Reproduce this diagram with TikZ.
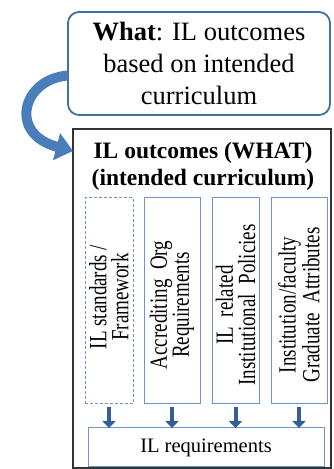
\documentclass[tikz,border=0pt]{standalone}
\usepackage{fontspec}
\setmainfont{Liberation Serif}
\usetikzlibrary{calc,arrows.meta}

\definecolor{framblue}{HTML}{41719C}
\definecolor{arrblue}{HTML}{4A7EBB}
\definecolor{boxblue}{HTML}{6F93CC}
\definecolor{downblue}{HTML}{355E97}

\begin{document}
\begin{tikzpicture}[
        x=1pt, y=1pt,
        every node/.style={inner sep=0, outer sep=0},
        whatbox/.style={draw=framblue, line width=1.8pt, rounded corners=11pt,
            minimum width=262pt, minimum height=103pt, align=center,
            font=\fontsize{26.5}{32}\selectfont},
        srcbox/.style={draw=boxblue, line width=1pt, minimum height=206pt},
        srctext/.style={rotate=90, yscale=1.3, align=center,
            font=\fontsize{19}{17}\selectfont},
        downarrow/.style={draw=downblue, line width=4pt,
            -{Triangle[length=7pt, width=13pt]}},
    ]

    \useasboundingbox (0,0) rectangle (333,469);

    % Top box and outer frame.
    \node[whatbox] (what) at (199,405.5)
        {\textbf{What}: IL outcomes\\based on intended\\curriculum};
    \node[draw=black!80, line width=1.2pt, minimum width=258pt,
        minimum height=339pt] (outcomes) at (202,170.5) {};
    \node[align=center, font=\fontsize{23.5}{27}\selectfont\bfseries]
        (title) at (203,303) {IL outcomes (WHAT)\\(intended curriculum)};

    % Sources of the outcomes.
    \node[srcbox, dash pattern=on 3pt off 2pt, minimum width=48pt] (std) at (109,168) {};
    \node[srcbox, minimum width=56pt] (acc) at (172,168) {};
    \node[srcbox, minimum width=47pt] (pol) at (235.5,168) {};
    \node[srcbox, minimum width=56pt] (att) at (299,168) {};

    \node[srctext] at ($(std)+(0,4)$) {IL standards /\\Framework};
    \node[srctext] at ($(acc)+(0,-4)$) {Accrediting\ \ Org\\Requirements};
    \node[srctext] at ($(pol)+(0,-4)$) {IL\ \ related\\Institutional\ \ Policies};
    \node[srctext] at ($(att)+(0,-4)$) {Institution/faculty\\Graduate\ \ Attributes};

    \node[draw=boxblue, line width=1pt, minimum width=236pt, minimum height=39pt,
        font=\fontsize{20.5}{22}\selectfont] (reqs) at (206,21.5) {IL requirements};

    % Arrows.
    \coordinate (from) at ($(what.west)+(0,-12)$);
    \coordinate (into) at ($(outcomes.north west)+(0,-22)$);
    \draw[arrblue, line width=10pt, -{Triangle[length=17pt, width=27pt]}]
        (from) .. controls (22,390) and (8,335) .. (into);

    \foreach \s in {std, acc, pol, att}
    {
        \draw[downarrow] ($(\s.south)+(0,-3)$) -- (\s.south |- reqs.north);
    }
\end{tikzpicture}
\end{document}
